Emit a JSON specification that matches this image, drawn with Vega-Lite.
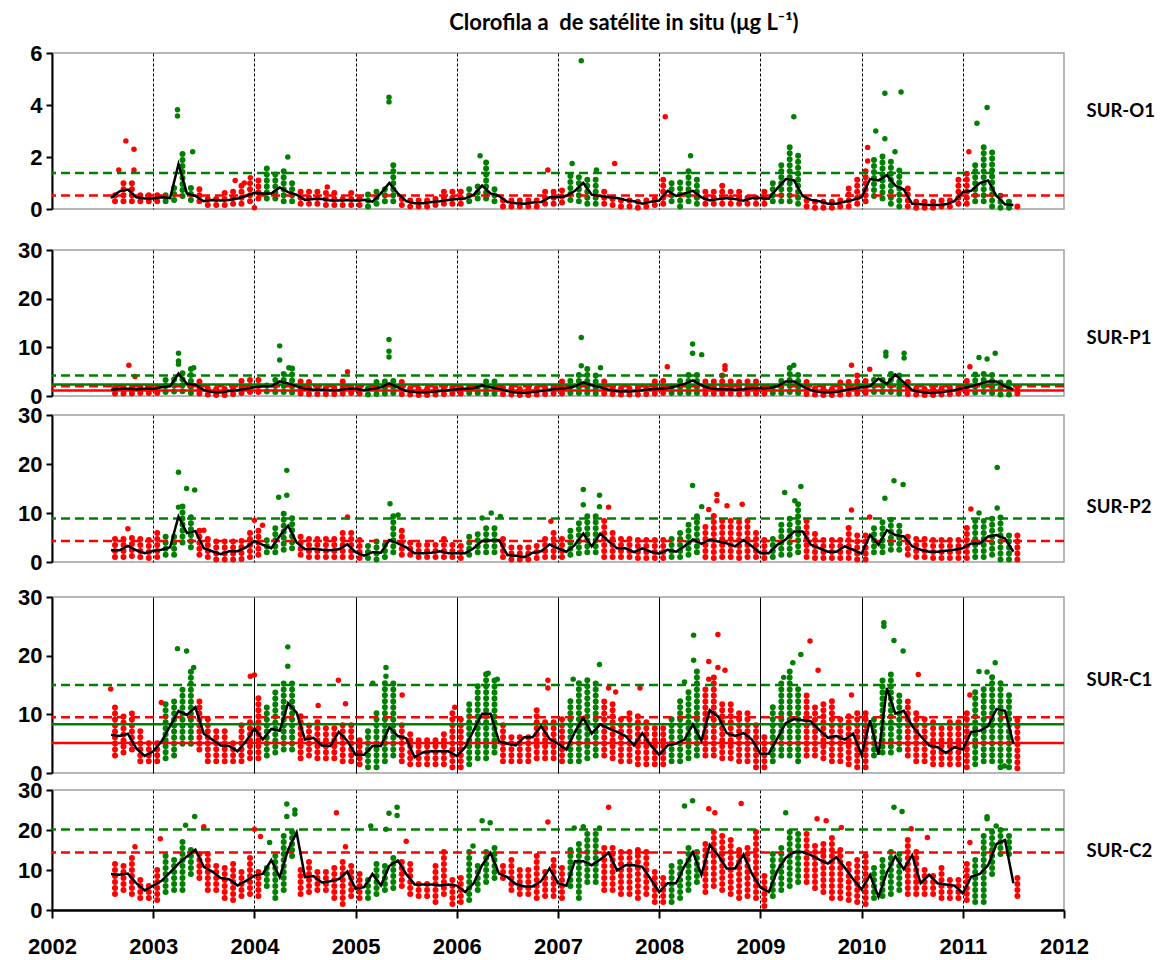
{
"$schema": "https://vega.github.io/schema/vega-lite/v6.json",
"background": "white",
"padding": {"left": 16, "top": 12, "right": 5, "bottom": 2},
"title": {"text": "Clorofila a\u00a0 de satélite in situ (μg L⁻¹)", "font": "Lato", "fontSize": 22, "fontWeight": "bold", "color": "black", "anchor": "middle", "dx": 38, "offset": 6},
"config": {
 "view": {"stroke": "#a0a0a0", "strokeWidth": 1.5},
 "axisY": {"grid": false, "domainColor": "black", "domainWidth": 2, "tickColor": "black", "tickWidth": 2, "tickSize": 6, "labelFont": "Liberation Sans", "labelFontSize": 22, "labelFontWeight": "bold", "labelColor": "black", "labelPadding": 4},
 "axisX": {"grid": true, "gridColor": "black", "gridWidth": 1, "gridDash": [3, 2], "labels": false, "ticks": false, "domain": false, "labelFlush": false, "labelFont": "Liberation Sans", "labelFontSize": 22, "labelFontWeight": "bold", "labelColor": "black"}
},
"datasets": {
"O1": [
{"t":2002.583,"m":0.42,"l":0.3,"h":0.75,"c":"r"},{"t":2002.667,"m":0.68,"l":0.3,"h":1.1,"c":"r"},{"t":2002.75,"m":0.75,"l":0.3,"h":1.0,"c":"r"},{"t":2002.833,"m":0.45,"l":0.3,"h":0.7,"c":"r"},{"t":2002.917,"m":0.4,"l":0.3,"h":0.7,"c":"r"},
{"t":2003,"m":0.4,"l":0.3,"h":0.75,"c":"r"},{"t":2003.083,"m":0.45,"l":0.3,"h":0.7,"c":"g"},{"t":2003.167,"m":0.42,"l":0.35,"h":0.9,"c":"g"},{"t":2003.25,"m":1.73,"l":0.5,"h":2.3,"c":"g"},{"t":2003.333,"m":0.6,"l":0.35,"h":1.0,"c":"g"},{"t":2003.417,"m":0.5,"l":0.3,"h":0.9,"c":"r"},{"t":2003.5,"m":0.3,"l":0.15,"h":0.6,"c":"r"},{"t":2003.583,"m":0.35,"l":0.15,"h":0.6,"c":"r"},{"t":2003.667,"m":0.33,"l":0.15,"h":0.7,"c":"r"},{"t":2003.75,"m":0.35,"l":0.2,"h":0.8,"c":"r"},{"t":2003.833,"m":0.4,"l":0.2,"h":1.0,"c":"r"},{"t":2003.917,"m":0.5,"l":0.3,"h":1.1,"c":"r"},
{"t":2004,"m":0.62,"l":0.4,"h":1.2,"c":"r"},{"t":2004.083,"m":0.6,"l":0.4,"h":1.65,"c":"g"},{"t":2004.167,"m":0.6,"l":0.4,"h":1.55,"c":"g"},{"t":2004.25,"m":0.83,"l":0.3,"h":1.5,"c":"g"},{"t":2004.333,"m":0.65,"l":0.3,"h":1.1,"c":"g"},{"t":2004.417,"m":0.55,"l":0.2,"h":0.8,"c":"r"},{"t":2004.5,"m":0.35,"l":0.2,"h":0.8,"c":"r"},{"t":2004.583,"m":0.38,"l":0.2,"h":0.85,"c":"r"},{"t":2004.667,"m":0.38,"l":0.15,"h":0.7,"c":"r"},{"t":2004.75,"m":0.33,"l":0.15,"h":0.7,"c":"r"},{"t":2004.833,"m":0.33,"l":0.15,"h":0.6,"c":"r"},{"t":2004.917,"m":0.35,"l":0.15,"h":0.7,"c":"r"},
{"t":2005,"m":0.33,"l":0.15,"h":0.6,"c":"r"},{"t":2005.083,"m":0.35,"l":0.1,"h":0.7,"c":"g"},{"t":2005.167,"m":0.28,"l":0.2,"h":0.85,"c":"g"},{"t":2005.25,"m":0.6,"l":0.3,"h":0.85,"c":"g"},{"t":2005.333,"m":1.0,"l":0.3,"h":1.9,"c":"g"},{"t":2005.417,"m":0.6,"l":0.15,"h":0.6,"c":"r"},{"t":2005.5,"m":0.3,"l":0.1,"h":0.5,"c":"r"},{"t":2005.583,"m":0.22,"l":0.1,"h":0.5,"c":"r"},{"t":2005.667,"m":0.22,"l":0.1,"h":0.55,"c":"r"},{"t":2005.75,"m":0.27,"l":0.15,"h":0.6,"c":"r"},{"t":2005.833,"m":0.3,"l":0.2,"h":0.7,"c":"r"},{"t":2005.917,"m":0.35,"l":0.2,"h":0.7,"c":"r"},
{"t":2006,"m":0.38,"l":0.2,"h":0.8,"c":"r"},{"t":2006.083,"m":0.4,"l":0.3,"h":0.9,"c":"g"},{"t":2006.167,"m":0.55,"l":0.4,"h":1.0,"c":"g"},{"t":2006.25,"m":0.9,"l":0.4,"h":1.8,"c":"g"},{"t":2006.333,"m":0.6,"l":0.3,"h":0.85,"c":"g"},{"t":2006.417,"m":0.5,"l":0.1,"h":0.5,"c":"r"},{"t":2006.5,"m":0.27,"l":0.1,"h":0.45,"c":"r"},{"t":2006.583,"m":0.22,"l":0.1,"h":0.4,"c":"r"},{"t":2006.667,"m":0.2,"l":0.1,"h":0.5,"c":"r"},{"t":2006.75,"m":0.25,"l":0.1,"h":0.55,"c":"r"},{"t":2006.833,"m":0.27,"l":0.2,"h":0.7,"c":"r"},{"t":2006.917,"m":0.45,"l":0.2,"h":0.85,"c":"r"},
{"t":2007,"m":0.45,"l":0.25,"h":0.9,"c":"r"},{"t":2007.083,"m":0.5,"l":0.35,"h":1.4,"c":"g"},{"t":2007.167,"m":0.7,"l":0.3,"h":1.4,"c":"g"},{"t":2007.25,"m":1.0,"l":0.2,"h":1.3,"c":"g"},{"t":2007.333,"m":0.55,"l":0.2,"h":1.3,"c":"g"},{"t":2007.417,"m":0.5,"l":0.2,"h":0.7,"c":"r"},{"t":2007.5,"m":0.45,"l":0.15,"h":0.6,"c":"r"},{"t":2007.583,"m":0.42,"l":0.1,"h":0.55,"c":"r"},{"t":2007.667,"m":0.35,"l":0.1,"h":0.5,"c":"r"},{"t":2007.75,"m":0.3,"l":0.05,"h":0.45,"c":"r"},{"t":2007.833,"m":0.2,"l":0.1,"h":0.5,"c":"r"},{"t":2007.917,"m":0.28,"l":0.15,"h":0.6,"c":"r"},
{"t":2008,"m":0.32,"l":0.2,"h":1.2,"c":"r"},{"t":2008.083,"m":0.7,"l":0.3,"h":1.1,"c":"g"},{"t":2008.167,"m":0.5,"l":0.1,"h":1.2,"c":"g"},{"t":2008.25,"m":0.6,"l":0.3,"h":1.6,"c":"g"},{"t":2008.333,"m":0.7,"l":0.2,"h":1.3,"c":"g"},{"t":2008.417,"m":0.45,"l":0.2,"h":0.7,"c":"r"},{"t":2008.5,"m":0.33,"l":0.2,"h":0.8,"c":"r"},{"t":2008.583,"m":0.38,"l":0.2,"h":0.9,"c":"r"},{"t":2008.667,"m":0.42,"l":0.2,"h":0.8,"c":"r"},{"t":2008.75,"m":0.38,"l":0.2,"h":0.7,"c":"r"},{"t":2008.833,"m":0.32,"l":0.2,"h":0.6,"c":"r"},{"t":2008.917,"m":0.42,"l":0.2,"h":0.6,"c":"r"},
{"t":2009,"m":0.42,"l":0.2,"h":0.7,"c":"r"},{"t":2009.083,"m":0.4,"l":0.3,"h":1.2,"c":"g"},{"t":2009.167,"m":0.8,"l":0.3,"h":1.8,"c":"g"},{"t":2009.25,"m":1.15,"l":0.3,"h":2.4,"c":"g"},{"t":2009.333,"m":1.1,"l":0.2,"h":2.2,"c":"g"},{"t":2009.417,"m":0.5,"l":0.1,"h":0.5,"c":"r"},{"t":2009.5,"m":0.35,"l":0.05,"h":0.45,"c":"r"},{"t":2009.583,"m":0.3,"l":0.05,"h":0.4,"c":"r"},{"t":2009.667,"m":0.2,"l":0.05,"h":0.45,"c":"r"},{"t":2009.75,"m":0.2,"l":0.1,"h":0.5,"c":"r"},{"t":2009.833,"m":0.28,"l":0.1,"h":0.9,"c":"r"},{"t":2009.917,"m":0.35,"l":0.2,"h":1.2,"c":"r"},
{"t":2010,"m":0.45,"l":0.3,"h":1.5,"c":"r"},{"t":2010.083,"m":1.15,"l":0.5,"h":2.0,"c":"g"},{"t":2010.167,"m":1.1,"l":0.4,"h":2.2,"c":"g"},{"t":2010.25,"m":1.3,"l":0.2,"h":1.9,"c":"g"},{"t":2010.333,"m":0.9,"l":0.1,"h":1.7,"c":"g"},{"t":2010.417,"m":0.75,"l":0.1,"h":0.9,"c":"r"},{"t":2010.5,"m":0.2,"l":0.05,"h":0.35,"c":"r"},{"t":2010.583,"m":0.18,"l":0.05,"h":0.35,"c":"r"},{"t":2010.667,"m":0.15,"l":0.05,"h":0.35,"c":"r"},{"t":2010.75,"m":0.15,"l":0.1,"h":0.35,"c":"r"},{"t":2010.833,"m":0.18,"l":0.1,"h":0.5,"c":"r"},{"t":2010.917,"m":0.3,"l":0.2,"h":1.2,"c":"r"},
{"t":2011,"m":0.65,"l":0.2,"h":1.5,"c":"r"},{"t":2011.083,"m":0.7,"l":0.3,"h":1.9,"c":"g"},{"t":2011.167,"m":1.0,"l":0.3,"h":2.4,"c":"g"},{"t":2011.25,"m":1.1,"l":0.1,"h":2.4,"c":"g"},{"t":2011.333,"m":0.5,"l":0.05,"h":0.6,"c":"g"},{"t":2011.417,"m":0.18,"l":0.05,"h":0.3,"c":"g"},{"t":2011.5,"m":0.15,"l":0.1,"h":0.3,"c":"r"}
],
"P1": [
{"t":2002.583,"m":1.3,"l":0.5,"h":2.8,"c":"r"},{"t":2002.667,"m":1.5,"l":0.5,"h":2.8,"c":"r"},{"t":2002.75,"m":1.5,"l":0.5,"h":2.5,"c":"r"},{"t":2002.833,"m":1.4,"l":0.6,"h":2.5,"c":"r"},{"t":2002.917,"m":1.5,"l":0.6,"h":2.6,"c":"r"},
{"t":2003,"m":1.5,"l":0.6,"h":2.6,"c":"r"},{"t":2003.083,"m":1.8,"l":0.8,"h":3.5,"c":"g"},{"t":2003.167,"m":2.0,"l":0.9,"h":4.0,"c":"g"},{"t":2003.25,"m":4.6,"l":1.0,"h":5.8,"c":"g"},{"t":2003.333,"m":2.5,"l":0.6,"h":6.0,"c":"g"},{"t":2003.417,"m":2.3,"l":0.5,"h":3.2,"c":"r"},{"t":2003.5,"m":1.2,"l":0.3,"h":2.6,"c":"r"},{"t":2003.583,"m":0.8,"l":0.2,"h":2.2,"c":"r"},{"t":2003.667,"m":0.7,"l":0.2,"h":2.4,"c":"r"},{"t":2003.75,"m":1.0,"l":0.4,"h":2.6,"c":"r"},{"t":2003.833,"m":1.2,"l":0.6,"h":3.4,"c":"r"},{"t":2003.917,"m":1.5,"l":0.8,"h":3.6,"c":"r"},
{"t":2004,"m":1.8,"l":0.8,"h":3.5,"c":"r"},{"t":2004.083,"m":2.0,"l":0.9,"h":3.0,"c":"g"},{"t":2004.167,"m":2.0,"l":0.8,"h":4.0,"c":"g"},{"t":2004.25,"m":3.0,"l":0.8,"h":5.2,"c":"g"},{"t":2004.333,"m":2.6,"l":0.7,"h":6.0,"c":"g"},{"t":2004.417,"m":2.0,"l":0.5,"h":3.0,"c":"r"},{"t":2004.5,"m":1.5,"l":0.4,"h":3.0,"c":"r"},{"t":2004.583,"m":1.3,"l":0.4,"h":2.6,"c":"r"},{"t":2004.667,"m":1.3,"l":0.4,"h":2.6,"c":"r"},{"t":2004.75,"m":1.2,"l":0.4,"h":2.8,"c":"r"},{"t":2004.833,"m":1.2,"l":0.5,"h":3.2,"c":"r"},{"t":2004.917,"m":1.5,"l":0.6,"h":3.0,"c":"r"},
{"t":2005,"m":1.5,"l":0.5,"h":2.8,"c":"r"},{"t":2005.083,"m":1.2,"l":0.3,"h":2.5,"c":"g"},{"t":2005.167,"m":1.5,"l":0.4,"h":3.0,"c":"g"},{"t":2005.25,"m":1.8,"l":0.5,"h":4.0,"c":"g"},{"t":2005.333,"m":2.6,"l":0.6,"h":4.0,"c":"g"},{"t":2005.417,"m":1.8,"l":0.4,"h":3.0,"c":"r"},{"t":2005.5,"m":1.0,"l":0.3,"h":2.4,"c":"r"},{"t":2005.583,"m":0.8,"l":0.2,"h":2.0,"c":"r"},{"t":2005.667,"m":0.7,"l":0.2,"h":2.0,"c":"r"},{"t":2005.75,"m":0.8,"l":0.3,"h":2.2,"c":"r"},{"t":2005.833,"m":1.0,"l":0.4,"h":2.4,"c":"r"},{"t":2005.917,"m":1.2,"l":0.5,"h":2.5,"c":"r"},
{"t":2006,"m":1.4,"l":0.5,"h":2.6,"c":"r"},{"t":2006.083,"m":1.5,"l":0.6,"h":2.8,"c":"g"},{"t":2006.167,"m":1.6,"l":0.6,"h":3.0,"c":"g"},{"t":2006.25,"m":2.2,"l":0.5,"h":3.8,"c":"g"},{"t":2006.333,"m":1.8,"l":0.5,"h":3.0,"c":"g"},{"t":2006.417,"m":1.5,"l":0.4,"h":2.6,"c":"r"},{"t":2006.5,"m":1.0,"l":0.3,"h":2.2,"c":"r"},{"t":2006.583,"m":0.7,"l":0.2,"h":1.8,"c":"r"},{"t":2006.667,"m":0.6,"l":0.2,"h":1.8,"c":"r"},{"t":2006.75,"m":0.8,"l":0.3,"h":2.2,"c":"r"},{"t":2006.833,"m":1.0,"l":0.4,"h":2.4,"c":"r"},{"t":2006.917,"m":1.3,"l":0.5,"h":2.8,"c":"r"},
{"t":2007,"m":1.5,"l":0.5,"h":3.0,"c":"r"},{"t":2007.083,"m":1.6,"l":0.6,"h":4.2,"c":"g"},{"t":2007.167,"m":2.0,"l":0.6,"h":4.5,"c":"g"},{"t":2007.25,"m":2.8,"l":0.6,"h":6.2,"c":"g"},{"t":2007.333,"m":2.2,"l":0.5,"h":5.0,"c":"g"},{"t":2007.417,"m":1.8,"l":0.5,"h":3.0,"c":"r"},{"t":2007.5,"m":1.3,"l":0.4,"h":2.6,"c":"r"},{"t":2007.583,"m":1.0,"l":0.3,"h":2.4,"c":"r"},{"t":2007.667,"m":0.9,"l":0.3,"h":2.4,"c":"r"},{"t":2007.75,"m":1.0,"l":0.3,"h":2.6,"c":"r"},{"t":2007.833,"m":1.2,"l":0.4,"h":2.8,"c":"r"},{"t":2007.917,"m":1.4,"l":0.5,"h":3.0,"c":"r"},
{"t":2008,"m":1.5,"l":0.6,"h":3.2,"c":"r"},{"t":2008.083,"m":1.6,"l":0.6,"h":3.0,"c":"g"},{"t":2008.167,"m":2.0,"l":0.6,"h":4.0,"c":"g"},{"t":2008.25,"m":2.5,"l":0.6,"h":5.0,"c":"g"},{"t":2008.333,"m":3.2,"l":0.6,"h":5.5,"c":"g"},{"t":2008.417,"m":2.2,"l":0.5,"h":3.5,"c":"r"},{"t":2008.5,"m":1.6,"l":0.5,"h":3.8,"c":"r"},{"t":2008.583,"m":1.4,"l":0.5,"h":4.8,"c":"r"},{"t":2008.667,"m":1.4,"l":0.5,"h":3.5,"c":"r"},{"t":2008.75,"m":1.3,"l":0.4,"h":3.0,"c":"r"},{"t":2008.833,"m":1.4,"l":0.5,"h":3.0,"c":"r"},{"t":2008.917,"m":1.6,"l":0.5,"h":3.0,"c":"r"},
{"t":2009,"m":1.6,"l":0.5,"h":2.8,"c":"r"},{"t":2009.083,"m":1.6,"l":0.6,"h":3.0,"c":"g"},{"t":2009.167,"m":2.0,"l":0.6,"h":4.0,"c":"g"},{"t":2009.25,"m":3.0,"l":0.8,"h":6.0,"c":"g"},{"t":2009.333,"m":3.0,"l":0.6,"h":4.5,"c":"g"},{"t":2009.417,"m":2.0,"l":0.4,"h":3.0,"c":"r"},{"t":2009.5,"m":1.2,"l":0.3,"h":2.6,"c":"r"},{"t":2009.583,"m":0.8,"l":0.2,"h":2.2,"c":"r"},{"t":2009.667,"m":0.7,"l":0.2,"h":2.4,"c":"r"},{"t":2009.75,"m":0.8,"l":0.3,"h":2.8,"c":"r"},{"t":2009.833,"m":1.2,"l":0.4,"h":3.5,"c":"r"},{"t":2009.917,"m":1.5,"l":0.5,"h":5.2,"c":"r"},
{"t":2010,"m":1.8,"l":0.6,"h":3.5,"c":"r"},{"t":2010.083,"m":2.0,"l":0.8,"h":3.5,"c":"g"},{"t":2010.167,"m":3.6,"l":0.8,"h":4.0,"c":"g"},{"t":2010.25,"m":2.5,"l":0.8,"h":4.8,"c":"g"},{"t":2010.333,"m":4.4,"l":0.5,"h":4.5,"c":"g"},{"t":2010.417,"m":2.8,"l":0.4,"h":3.0,"c":"r"},{"t":2010.5,"m":1.2,"l":0.3,"h":2.4,"c":"r"},{"t":2010.583,"m":0.8,"l":0.2,"h":2.0,"c":"r"},{"t":2010.667,"m":0.6,"l":0.2,"h":2.0,"c":"r"},{"t":2010.75,"m":0.7,"l":0.3,"h":2.2,"c":"r"},{"t":2010.833,"m":0.9,"l":0.4,"h":2.6,"c":"r"},{"t":2010.917,"m":1.2,"l":0.5,"h":2.8,"c":"r"},
{"t":2011,"m":1.6,"l":0.6,"h":4.0,"c":"r"},{"t":2011.083,"m":2.0,"l":0.7,"h":4.5,"c":"g"},{"t":2011.167,"m":2.5,"l":0.8,"h":5.0,"c":"g"},{"t":2011.25,"m":3.0,"l":0.6,"h":4.5,"c":"g"},{"t":2011.333,"m":3.0,"l":0.3,"h":3.5,"c":"g"},{"t":2011.417,"m":2.0,"l":0.3,"h":3.0,"c":"g"},{"t":2011.5,"m":1.3,"l":0.5,"h":2.5,"c":"r"}
],
"P2": [
{"t":2002.583,"m":2.4,"l":1.0,"h":5.2,"c":"r"},{"t":2002.667,"m":2.4,"l":1.0,"h":5.0,"c":"r"},{"t":2002.75,"m":3.3,"l":1.2,"h":5.5,"c":"r"},{"t":2002.833,"m":2.4,"l":1.0,"h":5.0,"c":"r"},{"t":2002.917,"m":1.8,"l":0.8,"h":4.5,"c":"r"},
{"t":2003,"m":2.3,"l":1.0,"h":6.0,"c":"r"},{"t":2003.083,"m":2.5,"l":1.5,"h":5.5,"c":"g"},{"t":2003.167,"m":3.0,"l":1.5,"h":6.0,"c":"g"},{"t":2003.25,"m":9.3,"l":4.0,"h":11.5,"c":"g"},{"t":2003.333,"m":5.9,"l":3.0,"h":10.0,"c":"g"},{"t":2003.417,"m":6.3,"l":1.5,"h":7.0,"c":"r"},{"t":2003.5,"m":2.8,"l":1.0,"h":5.0,"c":"r"},{"t":2003.583,"m":2.2,"l":0.5,"h":4.5,"c":"r"},{"t":2003.667,"m":1.6,"l":0.5,"h":4.5,"c":"r"},{"t":2003.75,"m":2.2,"l":0.5,"h":4.5,"c":"r"},{"t":2003.833,"m":2.2,"l":0.6,"h":5.0,"c":"r"},{"t":2003.917,"m":3.0,"l":1.0,"h":7.0,"c":"r"},
{"t":2004,"m":4.3,"l":1.5,"h":7.5,"c":"r"},{"t":2004.083,"m":3.5,"l":2.0,"h":5.0,"c":"g"},{"t":2004.167,"m":2.8,"l":2.0,"h":7.5,"c":"g"},{"t":2004.25,"m":5.3,"l":2.5,"h":10.5,"c":"g"},{"t":2004.333,"m":7.4,"l":2.8,"h":10.0,"c":"g"},{"t":2004.417,"m":4.0,"l":1.5,"h":5.5,"c":"r"},{"t":2004.5,"m":2.6,"l":1.0,"h":5.0,"c":"r"},{"t":2004.583,"m":2.7,"l":1.0,"h":5.0,"c":"r"},{"t":2004.667,"m":2.5,"l":1.0,"h":4.8,"c":"r"},{"t":2004.75,"m":2.4,"l":1.0,"h":5.0,"c":"r"},{"t":2004.833,"m":2.6,"l":1.0,"h":6.5,"c":"r"},{"t":2004.917,"m":3.6,"l":1.0,"h":7.0,"c":"r"},
{"t":2005,"m":2.0,"l":0.8,"h":4.5,"c":"r"},{"t":2005.083,"m":1.3,"l":0.8,"h":3.5,"c":"g"},{"t":2005.167,"m":2.0,"l":0.5,"h":4.5,"c":"g"},{"t":2005.25,"m":1.9,"l":1.0,"h":4.0,"c":"g"},{"t":2005.333,"m":4.5,"l":2.0,"h":9.5,"c":"g"},{"t":2005.417,"m":3.8,"l":1.5,"h":7.0,"c":"r"},{"t":2005.5,"m":3.0,"l":1.5,"h":5.0,"c":"r"},{"t":2005.583,"m":1.8,"l":1.0,"h":4.0,"c":"r"},{"t":2005.667,"m":1.8,"l":1.0,"h":4.0,"c":"r"},{"t":2005.75,"m":1.9,"l":1.0,"h":4.5,"c":"r"},{"t":2005.833,"m":2.2,"l":1.0,"h":5.0,"c":"r"},{"t":2005.917,"m":1.8,"l":1.0,"h":4.5,"c":"r"},
{"t":2006,"m":1.8,"l":0.8,"h":4.0,"c":"r"},{"t":2006.083,"m":1.8,"l":1.5,"h":5.5,"c":"g"},{"t":2006.167,"m":2.8,"l":2.0,"h":6.5,"c":"g"},{"t":2006.25,"m":4.3,"l":2.0,"h":7.5,"c":"g"},{"t":2006.333,"m":4.4,"l":2.0,"h":7.0,"c":"g"},{"t":2006.417,"m":4.5,"l":1.0,"h":5.0,"c":"r"},{"t":2006.5,"m":1.4,"l":0.5,"h":3.0,"c":"r"},{"t":2006.583,"m":1.3,"l":0.5,"h":3.5,"c":"r"},{"t":2006.667,"m":1.0,"l":0.5,"h":3.5,"c":"r"},{"t":2006.75,"m":1.9,"l":0.8,"h":4.0,"c":"r"},{"t":2006.833,"m":2.2,"l":1.0,"h":5.0,"c":"r"},{"t":2006.917,"m":3.6,"l":1.0,"h":6.0,"c":"r"},
{"t":2007,"m":2.8,"l":1.0,"h":5.5,"c":"r"},{"t":2007.083,"m":2.1,"l":1.5,"h":6.5,"c":"g"},{"t":2007.167,"m":3.5,"l":1.8,"h":8.5,"c":"g"},{"t":2007.25,"m":5.8,"l":2.0,"h":10.0,"c":"g"},{"t":2007.333,"m":3.2,"l":2.0,"h":10.5,"c":"g"},{"t":2007.417,"m":5.8,"l":1.0,"h":8.5,"c":"r"},{"t":2007.5,"m":4.2,"l":1.0,"h":6.5,"c":"r"},{"t":2007.583,"m":2.8,"l":1.0,"h":5.5,"c":"r"},{"t":2007.667,"m":2.8,"l":1.0,"h":5.5,"c":"r"},{"t":2007.75,"m":2.0,"l":0.8,"h":5.0,"c":"r"},{"t":2007.833,"m":2.8,"l":0.8,"h":5.5,"c":"r"},{"t":2007.917,"m":2.1,"l":0.8,"h":5.0,"c":"r"},
{"t":2008,"m":1.7,"l":0.8,"h":4.5,"c":"r"},{"t":2008.083,"m":2.5,"l":1.0,"h":5.0,"c":"g"},{"t":2008.167,"m":2.1,"l":1.0,"h":6.5,"c":"g"},{"t":2008.25,"m":3.2,"l":1.5,"h":8.5,"c":"g"},{"t":2008.333,"m":4.6,"l":2.0,"h":10.0,"c":"g"},{"t":2008.417,"m":3.7,"l":1.0,"h":8.0,"c":"r"},{"t":2008.5,"m":4.6,"l":0.8,"h":9.5,"c":"r"},{"t":2008.583,"m":4.2,"l":1.0,"h":9.0,"c":"r"},{"t":2008.667,"m":3.8,"l":1.0,"h":8.5,"c":"r"},{"t":2008.75,"m":3.2,"l":0.8,"h":9.0,"c":"r"},{"t":2008.833,"m":4.5,"l":1.0,"h":9.0,"c":"r"},{"t":2008.917,"m":3.2,"l":1.0,"h":7.0,"c":"r"},
{"t":2009,"m":1.8,"l":0.8,"h":5.0,"c":"r"},{"t":2009.083,"m":1.8,"l":1.0,"h":5.0,"c":"g"},{"t":2009.167,"m":3.5,"l":1.5,"h":8.0,"c":"g"},{"t":2009.25,"m":4.6,"l":1.5,"h":9.5,"c":"g"},{"t":2009.333,"m":6.2,"l":2.0,"h":12.5,"c":"g"},{"t":2009.417,"m":6.2,"l":1.0,"h":9.5,"c":"r"},{"t":2009.5,"m":3.5,"l":0.8,"h":6.0,"c":"r"},{"t":2009.583,"m":2.8,"l":0.8,"h":5.0,"c":"r"},{"t":2009.667,"m":2.1,"l":0.8,"h":5.0,"c":"r"},{"t":2009.75,"m":2.1,"l":0.8,"h":5.5,"c":"r"},{"t":2009.833,"m":3.2,"l":0.8,"h":7.5,"c":"r"},{"t":2009.917,"m":2.5,"l":0.5,"h":6.0,"c":"r"},
{"t":2010,"m":1.7,"l":0.5,"h":6.5,"c":"r"},{"t":2010.083,"m":5.5,"l":2.0,"h":8.0,"c":"g"},{"t":2010.167,"m":3.5,"l":2.0,"h":8.5,"c":"g"},{"t":2010.25,"m":6.5,"l":2.5,"h":9.0,"c":"g"},{"t":2010.333,"m":5.5,"l":2.5,"h":8.5,"c":"g"},{"t":2010.417,"m":5.2,"l":1.5,"h":6.0,"c":"r"},{"t":2010.5,"m":3.2,"l":1.0,"h":5.0,"c":"r"},{"t":2010.583,"m":2.5,"l":1.0,"h":5.0,"c":"r"},{"t":2010.667,"m":2.1,"l":0.8,"h":5.0,"c":"r"},{"t":2010.75,"m":2.1,"l":0.8,"h":4.5,"c":"r"},{"t":2010.833,"m":2.3,"l":0.8,"h":5.0,"c":"r"},{"t":2010.917,"m":2.5,"l":0.8,"h":5.0,"c":"r"},
{"t":2011,"m":2.8,"l":0.8,"h":7.0,"c":"r"},{"t":2011.083,"m":3.8,"l":1.0,"h":8.5,"c":"g"},{"t":2011.167,"m":3.8,"l":1.0,"h":9.5,"c":"g"},{"t":2011.25,"m":5.2,"l":1.5,"h":9.0,"c":"g"},{"t":2011.333,"m":5.5,"l":0.5,"h":10.0,"c":"g"},{"t":2011.417,"m":4.8,"l":0.5,"h":6.0,"c":"g"},{"t":2011.5,"m":2.1,"l":0.5,"h":6.5,"c":"r"}
],
"C1": [
{"t":2002.583,"m":6.5,"l":3,"h":12,"c":"r"},{"t":2002.667,"m":6.3,"l":3.5,"h":10,"c":"r"},{"t":2002.75,"m":6.7,"l":4,"h":11,"c":"r"},{"t":2002.833,"m":4.2,"l":2,"h":8,"c":"r"},{"t":2002.917,"m":2.9,"l":2,"h":6,"c":"r"},
{"t":2003,"m":3.7,"l":2,"h":6,"c":"r"},{"t":2003.083,"m":5.4,"l":2.5,"h":12,"c":"g"},{"t":2003.167,"m":8.0,"l":3,"h":12.5,"c":"g"},{"t":2003.25,"m":10.6,"l":5,"h":15,"c":"g"},{"t":2003.333,"m":9.9,"l":5,"h":18,"c":"g"},{"t":2003.417,"m":11.2,"l":4,"h":12.5,"c":"r"},{"t":2003.5,"m":6.7,"l":2,"h":10,"c":"r"},{"t":2003.583,"m":5.7,"l":2,"h":8,"c":"r"},{"t":2003.667,"m":4.7,"l":2,"h":7.5,"c":"r"},{"t":2003.75,"m":4.6,"l":2,"h":6,"c":"r"},{"t":2003.833,"m":3.7,"l":2,"h":9,"c":"r"},{"t":2003.917,"m":5.4,"l":2.5,"h":9,"c":"r"},
{"t":2004,"m":7.6,"l":2.5,"h":13,"c":"r"},{"t":2004.083,"m":5.7,"l":3,"h":12,"c":"g"},{"t":2004.167,"m":7.5,"l":3.5,"h":14.5,"c":"g"},{"t":2004.25,"m":7.2,"l":4,"h":15.5,"c":"g"},{"t":2004.333,"m":11.9,"l":4,"h":16,"c":"g"},{"t":2004.417,"m":10.3,"l":2.5,"h":10,"c":"r"},{"t":2004.5,"m":5.7,"l":3,"h":9,"c":"r"},{"t":2004.583,"m":6.0,"l":2.5,"h":9.5,"c":"r"},{"t":2004.667,"m":4.7,"l":2.5,"h":8,"c":"r"},{"t":2004.75,"m":4.6,"l":2.5,"h":8,"c":"r"},{"t":2004.833,"m":7.0,"l":2,"h":9,"c":"r"},{"t":2004.917,"m":5.5,"l":2,"h":9,"c":"r"},
{"t":2005,"m":3.1,"l":1.5,"h":6,"c":"r"},{"t":2005.083,"m":3.1,"l":1,"h":8,"c":"g"},{"t":2005.167,"m":4.6,"l":1,"h":11,"c":"g"},{"t":2005.25,"m":4.6,"l":2,"h":16,"c":"g"},{"t":2005.333,"m":7.8,"l":3,"h":15.5,"c":"g"},{"t":2005.417,"m":6.3,"l":2,"h":9,"c":"r"},{"t":2005.5,"m":5.9,"l":1.5,"h":7,"c":"r"},{"t":2005.583,"m":2.7,"l":1.5,"h":6,"c":"r"},{"t":2005.667,"m":3.5,"l":1.5,"h":6,"c":"r"},{"t":2005.75,"m":3.7,"l":1.5,"h":6,"c":"r"},{"t":2005.833,"m":3.7,"l":1.5,"h":7,"c":"r"},{"t":2005.917,"m":3.7,"l":1,"h":11,"c":"r"},
{"t":2006,"m":2.9,"l":1,"h":9.5,"c":"r"},{"t":2006.083,"m":4.4,"l":1.5,"h":12,"c":"g"},{"t":2006.167,"m":7.3,"l":2.5,"h":15.5,"c":"g"},{"t":2006.25,"m":10.1,"l":2.5,"h":17,"c":"g"},{"t":2006.333,"m":10.1,"l":3.5,"h":16,"c":"g"},{"t":2006.417,"m":5.4,"l":2,"h":9,"c":"r"},{"t":2006.5,"m":5.0,"l":2,"h":7,"c":"r"},{"t":2006.583,"m":4.7,"l":2,"h":6.5,"c":"r"},{"t":2006.667,"m":6.1,"l":2,"h":7,"c":"r"},{"t":2006.75,"m":6.1,"l":2.5,"h":11.5,"c":"r"},{"t":2006.833,"m":8.0,"l":2.5,"h":9.5,"c":"r"},{"t":2006.917,"m":5.8,"l":2.5,"h":9.5,"c":"r"},
{"t":2007,"m":5.0,"l":2,"h":10,"c":"r"},{"t":2007.083,"m":4.0,"l":2,"h":13,"c":"g"},{"t":2007.167,"m":7.0,"l":2,"h":15.5,"c":"g"},{"t":2007.25,"m":9.4,"l":2.5,"h":16,"c":"g"},{"t":2007.333,"m":6.7,"l":3,"h":16,"c":"g"},{"t":2007.417,"m":8.3,"l":3,"h":13,"c":"r"},{"t":2007.5,"m":7.6,"l":2.5,"h":12,"c":"r"},{"t":2007.583,"m":7.0,"l":2,"h":10,"c":"r"},{"t":2007.667,"m":6.3,"l":2,"h":11,"c":"r"},{"t":2007.75,"m":4.7,"l":1.5,"h":10,"c":"r"},{"t":2007.833,"m":6.8,"l":1.5,"h":9,"c":"r"},{"t":2007.917,"m":4.7,"l":1.5,"h":8,"c":"r"},
{"t":2008,"m":3.1,"l":1.5,"h":8,"c":"r"},{"t":2008.083,"m":4.7,"l":2,"h":10,"c":"g"},{"t":2008.167,"m":5.0,"l":2,"h":13,"c":"g"},{"t":2008.25,"m":5.7,"l":2.5,"h":14,"c":"g"},{"t":2008.333,"m":8.3,"l":3,"h":18,"c":"g"},{"t":2008.417,"m":5.5,"l":3,"h":15,"c":"r"},{"t":2008.5,"m":10.7,"l":3,"h":17,"c":"r"},{"t":2008.583,"m":9.6,"l":2.5,"h":12,"c":"r"},{"t":2008.667,"m":6.8,"l":2.5,"h":12,"c":"r"},{"t":2008.75,"m":6.3,"l":2,"h":11,"c":"r"},{"t":2008.833,"m":6.8,"l":2,"h":11,"c":"r"},{"t":2008.917,"m":5.7,"l":1,"h":9,"c":"r"},
{"t":2009,"m":3.3,"l":1,"h":7,"c":"r"},{"t":2009.083,"m":3.3,"l":2,"h":11.5,"c":"g"},{"t":2009.167,"m":5.9,"l":3,"h":16,"c":"g"},{"t":2009.25,"m":8.5,"l":3,"h":18,"c":"g"},{"t":2009.333,"m":9.2,"l":2,"h":15,"c":"g"},{"t":2009.417,"m":9.0,"l":3,"h":14,"c":"r"},{"t":2009.5,"m":8.8,"l":3,"h":12,"c":"r"},{"t":2009.583,"m":7.3,"l":2.5,"h":12,"c":"r"},{"t":2009.667,"m":6.0,"l":2,"h":13,"c":"r"},{"t":2009.75,"m":6.3,"l":2,"h":10,"c":"r"},{"t":2009.833,"m":5.7,"l":1.5,"h":10,"c":"r"},{"t":2009.917,"m":6.7,"l":1,"h":11,"c":"r"},
{"t":2010,"m":3.1,"l":1,"h":11,"c":"r"},{"t":2010.083,"m":9.0,"l":3,"h":10,"c":"g"},{"t":2010.167,"m":3.1,"l":3.5,"h":16,"c":"g"},{"t":2010.25,"m":14.5,"l":3.5,"h":17,"c":"g"},{"t":2010.333,"m":10.1,"l":4,"h":14,"c":"g"},{"t":2010.417,"m":10.6,"l":3,"h":13,"c":"r"},{"t":2010.5,"m":8.0,"l":2,"h":11,"c":"r"},{"t":2010.583,"m":6.3,"l":2,"h":10,"c":"r"},{"t":2010.667,"m":4.7,"l":1.5,"h":9,"c":"r"},{"t":2010.75,"m":4.4,"l":1.5,"h":8,"c":"r"},{"t":2010.833,"m":3.4,"l":1.5,"h":9,"c":"r"},{"t":2010.917,"m":4.4,"l":1.5,"h":9,"c":"r"},
{"t":2011,"m":4.0,"l":1,"h":11,"c":"r"},{"t":2011.083,"m":7.0,"l":1.5,"h":14,"c":"g"},{"t":2011.167,"m":7.2,"l":2,"h":15,"c":"g"},{"t":2011.25,"m":8.0,"l":2,"h":17,"c":"g"},{"t":2011.333,"m":10.9,"l":1,"h":16,"c":"g"},{"t":2011.417,"m":10.6,"l":1,"h":14,"c":"g"},{"t":2011.5,"m":5.0,"l":0.8,"h":9,"c":"r"}
],
"C2": [
{"t":2002.583,"m":9.0,"l":4,"h":13,"c":"r"},{"t":2002.667,"m":8.8,"l":5,"h":12.5,"c":"r"},{"t":2002.75,"m":9.1,"l":4,"h":14.5,"c":"r"},{"t":2002.833,"m":6.7,"l":3,"h":8,"c":"r"},{"t":2002.917,"m":4.9,"l":3,"h":6.5,"c":"r"},
{"t":2003,"m":6.1,"l":2.5,"h":10.5,"c":"r"},{"t":2003.083,"m":7.3,"l":4.5,"h":15,"c":"g"},{"t":2003.167,"m":9.4,"l":5,"h":14,"c":"g"},{"t":2003.25,"m":11.6,"l":5,"h":18,"c":"g"},{"t":2003.333,"m":13.4,"l":9,"h":16,"c":"g"},{"t":2003.417,"m":15.1,"l":8,"h":15,"c":"r"},{"t":2003.5,"m":10.8,"l":5,"h":15.5,"c":"r"},{"t":2003.583,"m":9.6,"l":5,"h":12,"c":"r"},{"t":2003.667,"m":8.0,"l":3,"h":12,"c":"r"},{"t":2003.75,"m":7.7,"l":2.5,"h":12,"c":"r"},{"t":2003.833,"m":6.1,"l":3.5,"h":10,"c":"r"},{"t":2003.917,"m":7.3,"l":4,"h":14,"c":"r"},
{"t":2004,"m":8.6,"l":3.5,"h":11,"c":"r"},{"t":2004.083,"m":9.0,"l":6,"h":12,"c":"g"},{"t":2004.167,"m":12.5,"l":3,"h":15,"c":"g"},{"t":2004.25,"m":8.2,"l":5,"h":19,"c":"g"},{"t":2004.333,"m":15.1,"l":13.5,"h":20,"c":"g"},{"t":2004.417,"m":19.4,"l":4,"h":11,"c":"r"},{"t":2004.5,"m":8.2,"l":4.5,"h":13,"c":"r"},{"t":2004.583,"m":8.5,"l":5,"h":10,"c":"r"},{"t":2004.667,"m":6.9,"l":5,"h":10,"c":"r"},{"t":2004.75,"m":7.2,"l":3,"h":11,"c":"r"},{"t":2004.833,"m":7.7,"l":1.5,"h":13,"c":"r"},{"t":2004.917,"m":9.6,"l":3.5,"h":12,"c":"r"},
{"t":2005,"m":5.3,"l":3,"h":10,"c":"r"},{"t":2005.083,"m":5.7,"l":3,"h":9,"c":"g"},{"t":2005.167,"m":9.0,"l":4,"h":12,"c":"g"},{"t":2005.25,"m":6.1,"l":5,"h":12,"c":"g"},{"t":2005.333,"m":11.0,"l":5.5,"h":14,"c":"g"},{"t":2005.417,"m":12.4,"l":6,"h":12.5,"c":"r"},{"t":2005.5,"m":9.0,"l":4,"h":13,"c":"r"},{"t":2005.583,"m":6.4,"l":3.5,"h":8,"c":"r"},{"t":2005.667,"m":6.4,"l":3.5,"h":8,"c":"r"},{"t":2005.75,"m":6.4,"l":2,"h":12,"c":"r"},{"t":2005.833,"m":6.1,"l":4,"h":15.5,"c":"r"},{"t":2005.917,"m":6.4,"l":1.5,"h":9,"c":"r"},
{"t":2006,"m":6.1,"l":2,"h":9,"c":"r"},{"t":2006.083,"m":4.5,"l":2.5,"h":16,"c":"g"},{"t":2006.167,"m":6.7,"l":5,"h":12,"c":"g"},{"t":2006.25,"m":11.2,"l":7,"h":16,"c":"g"},{"t":2006.333,"m":14.3,"l":8,"h":16,"c":"g"},{"t":2006.417,"m":9.1,"l":8,"h":12,"c":"r"},{"t":2006.5,"m":8.2,"l":5,"h":13,"c":"r"},{"t":2006.583,"m":6.5,"l":4,"h":11,"c":"r"},{"t":2006.667,"m":5.9,"l":4,"h":11,"c":"r"},{"t":2006.75,"m":5.9,"l":3,"h":14.5,"c":"r"},{"t":2006.833,"m":7.2,"l":3.5,"h":10.5,"c":"r"},{"t":2006.917,"m":10.4,"l":3.5,"h":13,"c":"r"},
{"t":2007,"m":6.7,"l":3,"h":11,"c":"r"},{"t":2007.083,"m":6.1,"l":6,"h":15.5,"c":"g"},{"t":2007.167,"m":12.2,"l":3,"h":17,"c":"g"},{"t":2007.25,"m":12.2,"l":7,"h":20.5,"c":"g"},{"t":2007.333,"m":11.2,"l":7,"h":20.5,"c":"g"},{"t":2007.417,"m":12.6,"l":5,"h":17,"c":"r"},{"t":2007.5,"m":14.3,"l":5,"h":16,"c":"r"},{"t":2007.583,"m":9.9,"l":4,"h":16,"c":"r"},{"t":2007.667,"m":11.2,"l":4,"h":15,"c":"r"},{"t":2007.75,"m":11.2,"l":3,"h":16,"c":"r"},{"t":2007.833,"m":10.8,"l":4,"h":15,"c":"r"},{"t":2007.917,"m":7.7,"l":2,"h":10,"c":"r"},
{"t":2008,"m":4.5,"l":2,"h":9,"c":"r"},{"t":2008.083,"m":6.7,"l":2,"h":12,"c":"g"},{"t":2008.167,"m":6.7,"l":3,"h":13,"c":"g"},{"t":2008.25,"m":11.0,"l":5,"h":16,"c":"g"},{"t":2008.333,"m":14.5,"l":7,"h":16,"c":"g"},{"t":2008.417,"m":8.8,"l":4.5,"h":17,"c":"r"},{"t":2008.5,"m":16.3,"l":6,"h":20,"c":"r"},{"t":2008.583,"m":13.7,"l":5,"h":19,"c":"r"},{"t":2008.667,"m":10.4,"l":4,"h":18,"c":"r"},{"t":2008.75,"m":10.4,"l":3,"h":16,"c":"r"},{"t":2008.833,"m":13.9,"l":3.5,"h":17,"c":"r"},{"t":2008.917,"m":9.0,"l":3,"h":20,"c":"r"},
{"t":2009,"m":5.7,"l":1,"h":10,"c":"r"},{"t":2009.083,"m":4.5,"l":3.5,"h":14.5,"c":"g"},{"t":2009.167,"m":9.8,"l":5,"h":17,"c":"g"},{"t":2009.25,"m":13.0,"l":6,"h":20,"c":"g"},{"t":2009.333,"m":14.5,"l":7,"h":20,"c":"g"},{"t":2009.417,"m":14.5,"l":7,"h":20,"c":"r"},{"t":2009.5,"m":13.7,"l":5.5,"h":17.5,"c":"r"},{"t":2009.583,"m":12.6,"l":4.5,"h":17,"c":"r"},{"t":2009.667,"m":11.6,"l":3,"h":19,"c":"r"},{"t":2009.75,"m":13.2,"l":3,"h":16,"c":"r"},{"t":2009.833,"m":10.6,"l":2.5,"h":12,"c":"r"},{"t":2009.917,"m":7.7,"l":2,"h":13,"c":"r"},
{"t":2010,"m":5.1,"l":1.5,"h":14,"c":"r"},{"t":2010.083,"m":8.8,"l":3,"h":11,"c":"g"},{"t":2010.167,"m":3.3,"l":3.5,"h":13,"c":"g"},{"t":2010.25,"m":9.4,"l":4,"h":16,"c":"g"},{"t":2010.333,"m":13.4,"l":5,"h":15,"c":"g"},{"t":2010.417,"m":10.2,"l":4,"h":19,"c":"r"},{"t":2010.5,"m":13.7,"l":4,"h":16,"c":"r"},{"t":2010.583,"m":6.7,"l":4,"h":11,"c":"r"},{"t":2010.667,"m":8.8,"l":4,"h":10,"c":"r"},{"t":2010.75,"m":6.7,"l":3,"h":11.5,"c":"r"},{"t":2010.833,"m":6.4,"l":3,"h":9,"c":"r"},{"t":2010.917,"m":6.1,"l":3,"h":9,"c":"r"},
{"t":2011,"m":4.2,"l":2.5,"h":12,"c":"r"},{"t":2011.083,"m":8.3,"l":2,"h":14,"c":"g"},{"t":2011.167,"m":9.0,"l":2,"h":20,"c":"g"},{"t":2011.25,"m":11.2,"l":9,"h":20,"c":"g"},{"t":2011.333,"m":16.5,"l":14,"h":21,"c":"g"},{"t":2011.417,"m":17.5,"l":14,"h":20,"c":"g"},{"t":2011.5,"m":6.7,"l":3.5,"h":9.5,"c":"r"}
],
"oO1": [
{"t":2002.73,"v":2.62,"c":"r"},{"t":2002.81,"v":2.3,"c":"r"},{"t":2002.81,"v":1.5,"c":"r"},{"t":2002.66,"v":1.5,"c":"r"},{"t":2003.24,"v":3.82,"c":"g"},{"t":2003.24,"v":3.58,"c":"g"},{"t":2003.39,"v":2.2,"c":"g"},{"t":2003.81,"v":1.1,"c":"r"},{"t":2003.9,"v":1.0,"c":"r"},{"t":2003.96,"v":1.2,"c":"r"},{"t":2004.0,"v":0.05,"c":"r"},{"t":2004.33,"v":2.0,"c":"g"},{"t":2004.72,"v":0.85,"c":"r"},{"t":2005.33,"v":4.3,"c":"g"},{"t":2005.33,"v":4.12,"c":"g"},{"t":2006.23,"v":2.05,"c":"g"},{"t":2006.9,"v":1.5,"c":"r"},{"t":2007.23,"v":5.7,"c":"g"},{"t":2007.14,"v":1.75,"c":"g"},{"t":2007.38,"v":1.5,"c":"g"},{"t":2007.56,"v":1.75,"c":"r"},{"t":2008.06,"v":3.55,"c":"r"},{"t":2008.31,"v":2.05,"c":"g"},{"t":2009.33,"v":3.55,"c":"g"},{"t":2010.06,"v":2.37,"c":"r"},{"t":2010.06,"v":1.85,"c":"r"},{"t":2010.14,"v":3.0,"c":"g"},{"t":2010.23,"v":2.7,"c":"g"},{"t":2010.23,"v":4.45,"c":"g"},{"t":2010.39,"v":4.5,"c":"g"},{"t":2010.33,"v":2.2,"c":"g"},{"t":2011.06,"v":2.2,"c":"r"},{"t":2011.14,"v":3.3,"c":"g"},{"t":2011.24,"v":3.9,"c":"g"}
],
"oP1": [
{"t":2002.76,"v":6.3,"c":"r"},{"t":2002.82,"v":4.0,"c":"r"},{"t":2003.25,"v":8.8,"c":"g"},{"t":2003.25,"v":7.2,"c":"g"},{"t":2003.25,"v":6.5,"c":"g"},{"t":2003.4,"v":5.8,"c":"g"},{"t":2004.25,"v":10.3,"c":"g"},{"t":2004.25,"v":7.4,"c":"g"},{"t":2004.34,"v":5.8,"c":"g"},{"t":2004.92,"v":5.0,"c":"r"},{"t":2005.33,"v":11.6,"c":"g"},{"t":2005.33,"v":9.2,"c":"g"},{"t":2005.33,"v":8.0,"c":"g"},{"t":2007.23,"v":12.0,"c":"g"},{"t":2007.23,"v":6.2,"c":"g"},{"t":2007.42,"v":5.8,"c":"g"},{"t":2008.08,"v":6.0,"c":"r"},{"t":2008.33,"v":10.7,"c":"g"},{"t":2008.33,"v":8.8,"c":"g"},{"t":2008.42,"v":8.5,"c":"g"},{"t":2008.65,"v":6.2,"c":"r"},{"t":2008.65,"v":5.5,"c":"r"},{"t":2009.33,"v":6.3,"c":"g"},{"t":2009.9,"v":6.3,"c":"r"},{"t":2010.08,"v":5.5,"c":"r"},{"t":2010.24,"v":9.0,"c":"g"},{"t":2010.24,"v":8.2,"c":"g"},{"t":2010.42,"v":8.8,"c":"g"},{"t":2010.42,"v":7.8,"c":"g"},{"t":2011.07,"v":6.0,"c":"r"},{"t":2011.16,"v":7.9,"c":"g"},{"t":2011.24,"v":7.6,"c":"g"},{"t":2011.32,"v":8.8,"c":"g"}
],
"oP2": [
{"t":2002.75,"v":6.8,"c":"r"},{"t":2003.25,"v":18.3,"c":"g"},{"t":2003.25,"v":11.2,"c":"g"},{"t":2003.33,"v":15.0,"c":"g"},{"t":2003.41,"v":14.7,"c":"g"},{"t":2003.5,"v":6.5,"c":"r"},{"t":2004.0,"v":8.5,"c":"r"},{"t":2004.08,"v":7.5,"c":"r"},{"t":2004.32,"v":18.7,"c":"g"},{"t":2004.32,"v":13.6,"c":"g"},{"t":2004.24,"v":13.2,"c":"g"},{"t":2004.92,"v":9.2,"c":"r"},{"t":2005.34,"v":11.9,"c":"g"},{"t":2005.42,"v":9.6,"c":"g"},{"t":2006.25,"v":9.0,"c":"g"},{"t":2006.34,"v":10.0,"c":"g"},{"t":2006.43,"v":9.3,"c":"g"},{"t":2006.93,"v":8.3,"c":"r"},{"t":2007.25,"v":14.8,"c":"g"},{"t":2007.25,"v":11.7,"c":"g"},{"t":2007.41,"v":13.6,"c":"g"},{"t":2007.41,"v":11.3,"c":"g"},{"t":2007.5,"v":11.2,"c":"r"},{"t":2008.33,"v":15.6,"c":"g"},{"t":2008.42,"v":11.3,"c":"g"},{"t":2008.49,"v":10.7,"c":"r"},{"t":2008.57,"v":13.8,"c":"r"},{"t":2008.57,"v":12.5,"c":"r"},{"t":2008.67,"v":11.5,"c":"r"},{"t":2008.82,"v":11.8,"c":"r"},{"t":2009.24,"v":14.2,"c":"g"},{"t":2009.4,"v":15.4,"c":"g"},{"t":2009.34,"v":12.5,"c":"g"},{"t":2009.9,"v":10.6,"c":"r"},{"t":2010.08,"v":9.2,"c":"r"},{"t":2010.23,"v":13.0,"c":"g"},{"t":2010.32,"v":16.6,"c":"g"},{"t":2010.41,"v":15.8,"c":"g"},{"t":2011.08,"v":10.8,"c":"r"},{"t":2011.16,"v":10.0,"c":"g"},{"t":2011.34,"v":19.3,"c":"g"},{"t":2011.34,"v":11.0,"c":"g"}
],
"oC1": [
{"t":2002.58,"v":14.3,"c":"r"},{"t":2003.08,"v":12.0,"c":"r"},{"t":2003.24,"v":21.2,"c":"g"},{"t":2003.33,"v":20.8,"c":"g"},{"t":2003.4,"v":18.0,"c":"g"},{"t":2003.96,"v":16.5,"c":"r"},{"t":2004.0,"v":16.7,"c":"r"},{"t":2004.33,"v":21.5,"c":"g"},{"t":2004.33,"v":18.2,"c":"g"},{"t":2004.63,"v":11.5,"c":"r"},{"t":2004.83,"v":15.8,"c":"r"},{"t":2004.9,"v":11.8,"c":"r"},{"t":2005.17,"v":15.3,"c":"g"},{"t":2005.3,"v":18.0,"c":"g"},{"t":2005.3,"v":16.5,"c":"g"},{"t":2005.46,"v":13.3,"c":"r"},{"t":2005.98,"v":11.2,"c":"r"},{"t":2006.31,"v":17.0,"c":"g"},{"t":2006.4,"v":16.0,"c":"g"},{"t":2006.9,"v":15.8,"c":"r"},{"t":2006.9,"v":14.5,"c":"r"},{"t":2007.15,"v":16.0,"c":"g"},{"t":2007.41,"v":18.5,"c":"g"},{"t":2007.5,"v":14.5,"c":"r"},{"t":2007.57,"v":13.8,"c":"r"},{"t":2007.81,"v":14.5,"c":"r"},{"t":2008.25,"v":15.5,"c":"g"},{"t":2008.34,"v":23.5,"c":"g"},{"t":2008.34,"v":19.2,"c":"g"},{"t":2008.49,"v":19.0,"c":"r"},{"t":2008.49,"v":16.0,"c":"r"},{"t":2008.58,"v":23.6,"c":"r"},{"t":2008.58,"v":18.0,"c":"r"},{"t":2008.65,"v":17.5,"c":"r"},{"t":2009.23,"v":16.3,"c":"g"},{"t":2009.32,"v":18.8,"c":"g"},{"t":2009.4,"v":20.2,"c":"g"},{"t":2009.49,"v":22.5,"c":"r"},{"t":2009.57,"v":17.5,"c":"r"},{"t":2009.9,"v":13.3,"c":"r"},{"t":2010.22,"v":25.6,"c":"g"},{"t":2010.22,"v":25.0,"c":"g"},{"t":2010.32,"v":22.6,"c":"g"},{"t":2010.41,"v":20.8,"c":"g"},{"t":2010.56,"v":16.8,"c":"r"},{"t":2011.07,"v":13.3,"c":"r"},{"t":2011.16,"v":17.3,"c":"g"},{"t":2011.24,"v":17.2,"c":"g"},{"t":2011.32,"v":18.8,"c":"g"},{"t":2011.41,"v":1.2,"c":"g"}
],
"oC2": [
{"t":2002.82,"v":15.8,"c":"r"},{"t":2003.07,"v":17.8,"c":"r"},{"t":2003.32,"v":21.2,"c":"g"},{"t":2003.41,"v":23.4,"c":"g"},{"t":2003.5,"v":20.8,"c":"r"},{"t":2004.0,"v":20.2,"c":"r"},{"t":2004.06,"v":18.4,"c":"r"},{"t":2004.15,"v":16.9,"c":"g"},{"t":2004.32,"v":26.5,"c":"g"},{"t":2004.32,"v":23.4,"c":"g"},{"t":2004.4,"v":25.0,"c":"g"},{"t":2004.4,"v":24.0,"c":"g"},{"t":2004.81,"v":24.3,"c":"r"},{"t":2004.9,"v":15.8,"c":"r"},{"t":2005.15,"v":21.0,"c":"g"},{"t":2005.3,"v":20.2,"c":"g"},{"t":2005.33,"v":24.2,"c":"g"},{"t":2005.41,"v":25.7,"c":"g"},{"t":2005.41,"v":23.6,"c":"g"},{"t":2005.5,"v":17.2,"c":"r"},{"t":2006.16,"v":16.0,"c":"g"},{"t":2006.25,"v":22.3,"c":"g"},{"t":2006.33,"v":21.8,"c":"g"},{"t":2006.9,"v":22.0,"c":"r"},{"t":2007.16,"v":20.5,"c":"g"},{"t":2007.25,"v":20.8,"c":"g"},{"t":2007.41,"v":20.5,"c":"g"},{"t":2007.5,"v":25.7,"c":"r"},{"t":2008.25,"v":26.0,"c":"g"},{"t":2008.33,"v":27.3,"c":"g"},{"t":2008.49,"v":25.3,"c":"r"},{"t":2008.55,"v":24.3,"c":"r"},{"t":2008.81,"v":26.6,"c":"r"},{"t":2009.25,"v":24.3,"c":"g"},{"t":2009.56,"v":22.8,"c":"r"},{"t":2009.65,"v":22.3,"c":"r"},{"t":2009.8,"v":20.6,"c":"r"},{"t":2010.32,"v":25.7,"c":"g"},{"t":2010.4,"v":24.6,"c":"g"},{"t":2010.49,"v":20.3,"c":"r"},{"t":2010.65,"v":18.1,"c":"r"},{"t":2011.07,"v":16.9,"c":"r"},{"t":2011.24,"v":23.3,"c":"g"},{"t":2011.24,"v":22.8,"c":"g"},{"t":2011.33,"v":21.0,"c":"g"}
],
"ref": [
{"p":"O1","y":1.38,"c":"g","s":"d"},{"p":"O1","y":0.52,"c":"r","s":"d"},
{"p":"P1","y":4.2,"c":"g","s":"d"},{"p":"P1","y":2.35,"c":"g","s":"s"},{"p":"P1","y":2.0,"c":"r","s":"d"},{"p":"P1","y":1.15,"c":"r","s":"s"},
{"p":"P2","y":8.9,"c":"g","s":"d"},{"p":"P2","y":4.3,"c":"r","s":"d"},
{"p":"C1","y":15.0,"c":"g","s":"d"},{"p":"C1","y":9.5,"c":"r","s":"d"},{"p":"C1","y":8.3,"c":"g","s":"s"},{"p":"C1","y":5.1,"c":"r","s":"s"},
{"p":"C2","y":20.1,"c":"g","s":"d"},{"p":"C2","y":14.4,"c":"r","s":"d"}
]
},
"spacing": 11,
"resolve": {"scale": {"x": "independent", "y": "independent"}, "axis": {"x": "independent", "y": "independent"}},
"vconcat": [
{
"spacing": 17,
"resolve": {"scale": {"x": "independent", "y": "independent"}, "axis": {"x": "independent", "y": "independent"}},
"vconcat": [
{
 "width": 1012, "height": 156,
 "resolve": {"axis": {"y": "independent"}},
 "layer": [
  {"data": {"name": "O1"}, "mark": {"type": "rule", "strokeWidth": 6, "strokeCap": "round", "strokeDash": [0, 6], "xOffset": 4},
   "encoding": {
    "x": {"field": "t", "type": "quantitative", "title": null, "scale": {"domain": [2002, 2012], "nice": false, "zero": false}, "axis": {"values": [2003,2004,2005,2006,2007,2008,2009,2010,2011]}},
    "y": {"field": "l", "type": "quantitative", "title": null, "scale": {"domain": [0, 6], "nice": false}, "axis": {"values": [0, 2, 4, 6]}},
    "y2": {"field": "h"},
    "color": {"field": "c", "type": "nominal", "scale": {"domain": ["r", "g"], "range": ["#ff0000", "#008000"]}, "legend": null}}},
  {"data": {"name": "oO1"}, "mark": {"type": "circle", "size": 30, "opacity": 1},
   "encoding": {"x": {"field": "t", "type": "quantitative", "title": null}, "y": {"field": "v", "type": "quantitative", "axis": null}, "color": {"field": "c", "type": "nominal", "legend": null}}},
  {"data": {"name": "ref"}, "transform": [{"filter": "datum.p == 'O1'"}], "mark": {"type": "rule", "strokeWidth": 2.5},
   "encoding": {"y": {"field": "y", "type": "quantitative", "axis": {"orient": "right", "title": "SUR-O1", "labels": false, "ticks": false, "domain": false, "grid": false, "titleAngle": 0, "titleAlign": "left", "titleBaseline": "middle", "titleX": 22, "titleY": 57, "titleFont": "Lato", "titleFontSize": 18.5, "titleFontWeight": "bold", "titleColor": "black"}}, "color": {"field": "c", "type": "nominal", "legend": null}, "strokeDash": {"field": "s", "type": "nominal", "scale": {"domain": ["d", "s"], "range": [[9, 5], [1, 0]]}, "legend": null}}},
  {"data": {"name": "O1"}, "mark": {"type": "line", "color": "black", "strokeWidth": 2.5},
   "encoding": {"x": {"field": "t", "type": "quantitative", "title": null}, "y": {"field": "m", "type": "quantitative", "axis": null}}}
 ]
},
{
"spacing": -5,
"resolve": {"scale": {"x": "independent", "y": "independent"}, "axis": {"x": "independent", "y": "independent"}},
"vconcat": [
 {
  "width": 1012, "height": 146,
  "resolve": {"axis": {"y": "independent"}},
  "layer": [
   {"data": {"name": "P1"}, "mark": {"type": "rule", "strokeWidth": 6, "strokeCap": "round", "strokeDash": [0, 6], "xOffset": 4},
    "encoding": {
     "x": {"field": "t", "type": "quantitative", "title": null, "scale": {"domain": [2002, 2012], "nice": false, "zero": false}, "axis": {"values": [2003,2004,2005,2006,2007,2008,2009,2010,2011]}},
     "y": {"field": "l", "type": "quantitative", "title": null, "scale": {"domain": [0, 30], "nice": false}, "axis": {"values": [0, 10, 20, 30]}},
     "y2": {"field": "h"},
     "color": {"field": "c", "type": "nominal", "scale": {"domain": ["r", "g"], "range": ["#ff0000", "#008000"]}, "legend": null}}},
   {"data": {"name": "oP1"}, "mark": {"type": "circle", "size": 30, "opacity": 1},
    "encoding": {"x": {"field": "t", "type": "quantitative", "title": null}, "y": {"field": "v", "type": "quantitative", "axis": null}, "color": {"field": "c", "type": "nominal", "legend": null}}},
   {"data": {"name": "ref"}, "transform": [{"filter": "datum.p == 'P1'"}], "mark": {"type": "rule", "strokeWidth": 2.5},
    "encoding": {"y": {"field": "y", "type": "quantitative", "axis": {"orient": "right", "title": "SUR-P1", "labels": false, "ticks": false, "domain": false, "grid": false, "titleAngle": 0, "titleAlign": "left", "titleBaseline": "middle", "titleX": 22, "titleY": 87, "titleFont": "Lato", "titleFontSize": 18.5, "titleFontWeight": "bold", "titleColor": "black"}}, "color": {"field": "c", "type": "nominal", "legend": null}, "strokeDash": {"field": "s", "type": "nominal", "scale": {"domain": ["d", "s"], "range": [[9, 5], [1, 0]]}, "legend": null}}},
   {"data": {"name": "P1"}, "mark": {"type": "line", "color": "black", "strokeWidth": 2.5},
    "encoding": {"x": {"field": "t", "type": "quantitative", "title": null}, "y": {"field": "m", "type": "quantitative", "axis": null}}}
  ]
 },
 {
  "width": 1012, "height": 147,
  "resolve": {"axis": {"y": "independent"}},
  "layer": [
   {"data": {"name": "P2"}, "mark": {"type": "rule", "strokeWidth": 6, "strokeCap": "round", "strokeDash": [0, 6], "xOffset": 4},
    "encoding": {
     "x": {"field": "t", "type": "quantitative", "title": null, "scale": {"domain": [2002, 2012], "nice": false, "zero": false}, "axis": {"values": [2003,2004,2005,2006,2007,2008,2009,2010,2011]}},
     "y": {"field": "l", "type": "quantitative", "title": null, "scale": {"domain": [0, 30], "nice": false}, "axis": {"values": [0, 10, 20, 30]}},
     "y2": {"field": "h"},
     "color": {"field": "c", "type": "nominal", "scale": {"domain": ["r", "g"], "range": ["#ff0000", "#008000"]}, "legend": null}}},
   {"data": {"name": "oP2"}, "mark": {"type": "circle", "size": 30, "opacity": 1},
    "encoding": {"x": {"field": "t", "type": "quantitative", "title": null}, "y": {"field": "v", "type": "quantitative", "axis": null}, "color": {"field": "c", "type": "nominal", "legend": null}}},
   {"data": {"name": "ref"}, "transform": [{"filter": "datum.p == 'P2'"}], "mark": {"type": "rule", "strokeWidth": 2.5},
    "encoding": {"y": {"field": "y", "type": "quantitative", "axis": {"orient": "right", "title": "SUR-P2", "labels": false, "ticks": false, "domain": false, "grid": false, "titleAngle": 0, "titleAlign": "left", "titleBaseline": "middle", "titleX": 22, "titleY": 91, "titleFont": "Lato", "titleFontSize": 18.5, "titleFontWeight": "bold", "titleColor": "black"}}, "color": {"field": "c", "type": "nominal", "legend": null}, "strokeDash": {"field": "s", "type": "nominal", "scale": {"domain": ["d", "s"], "range": [[9, 5], [1, 0]]}, "legend": null}}},
   {"data": {"name": "P2"}, "mark": {"type": "line", "color": "black", "strokeWidth": 2.5},
    "encoding": {"x": {"field": "t", "type": "quantitative", "title": null}, "y": {"field": "m", "type": "quantitative", "axis": null}}}
  ]
 }
]
}
]
},
{
"spacing": -7,
"resolve": {"scale": {"x": "independent", "y": "independent"}, "axis": {"x": "independent", "y": "independent"}},
"vconcat": [
 {
  "width": 1012, "height": 176,
  "resolve": {"axis": {"y": "independent"}},
  "layer": [
   {"data": {"name": "C1"}, "mark": {"type": "rule", "strokeWidth": 6, "strokeCap": "round", "strokeDash": [0, 6], "xOffset": 4},
    "encoding": {
     "x": {"field": "t", "type": "quantitative", "title": null, "scale": {"domain": [2002, 2012], "nice": false, "zero": false}, "axis": {"values": [2003,2004,2005,2006,2007,2008,2009,2010,2011], "gridDash": []}},
     "y": {"field": "l", "type": "quantitative", "title": null, "scale": {"domain": [0, 30], "nice": false}, "axis": {"values": [0, 10, 20, 30]}},
     "y2": {"field": "h"},
     "color": {"field": "c", "type": "nominal", "scale": {"domain": ["r", "g"], "range": ["#ff0000", "#008000"]}, "legend": null}}},
   {"data": {"name": "oC1"}, "mark": {"type": "circle", "size": 30, "opacity": 1},
    "encoding": {"x": {"field": "t", "type": "quantitative", "title": null}, "y": {"field": "v", "type": "quantitative", "axis": null}, "color": {"field": "c", "type": "nominal", "legend": null}}},
   {"data": {"name": "ref"}, "transform": [{"filter": "datum.p == 'C1'"}], "mark": {"type": "rule", "strokeWidth": 2.5},
    "encoding": {"y": {"field": "y", "type": "quantitative", "axis": {"orient": "right", "title": "SUR-C1", "labels": false, "ticks": false, "domain": false, "grid": false, "titleAngle": 0, "titleAlign": "left", "titleBaseline": "middle", "titleX": 22, "titleY": 82, "titleFont": "Lato", "titleFontSize": 18.5, "titleFontWeight": "bold", "titleColor": "black"}}, "color": {"field": "c", "type": "nominal", "legend": null}, "strokeDash": {"field": "s", "type": "nominal", "scale": {"domain": ["d", "s"], "range": [[9, 5], [1, 0]]}, "legend": null}}},
   {"data": {"name": "C1"}, "mark": {"type": "line", "color": "black", "strokeWidth": 2.5},
    "encoding": {"x": {"field": "t", "type": "quantitative", "title": null}, "y": {"field": "m", "type": "quantitative", "axis": null}}}
  ]
 },
 {
  "width": 1012, "height": 120,
  "resolve": {"axis": {"y": "independent"}},
  "layer": [
   {"data": {"name": "C2"}, "mark": {"type": "rule", "strokeWidth": 6, "strokeCap": "round", "strokeDash": [0, 6], "xOffset": 4},
    "encoding": {
     "x": {"field": "t", "type": "quantitative", "title": null, "scale": {"domain": [2002, 2012], "nice": false, "zero": false},
      "axis": {"values": [2002,2003,2004,2005,2006,2007,2008,2009,2010,2011,2012], "format": "d", "labels": true, "ticks": true, "domain": true, "tickColor": "black", "tickSize": 8, "tickWidth": 2, "domainColor": "black", "domainWidth": 2.5, "labelPadding": 18,
       "gridOpacity": {"condition": {"test": "datum.value == 2002 || datum.value == 2012", "value": 0}, "value": 1}}},
     "y": {"field": "l", "type": "quantitative", "title": null, "scale": {"domain": [0, 30], "nice": false}, "axis": {"values": [0, 10, 20, 30]}},
     "y2": {"field": "h"},
     "color": {"field": "c", "type": "nominal", "scale": {"domain": ["r", "g"], "range": ["#ff0000", "#008000"]}, "legend": null}}},
   {"data": {"name": "oC2"}, "mark": {"type": "circle", "size": 30, "opacity": 1},
    "encoding": {"x": {"field": "t", "type": "quantitative", "title": null}, "y": {"field": "v", "type": "quantitative", "axis": null}, "color": {"field": "c", "type": "nominal", "legend": null}}},
   {"data": {"name": "ref"}, "transform": [{"filter": "datum.p == 'C2'"}], "mark": {"type": "rule", "strokeWidth": 2.5},
    "encoding": {"y": {"field": "y", "type": "quantitative", "axis": {"orient": "right", "title": "SUR-C2", "labels": false, "ticks": false, "domain": false, "grid": false, "titleAngle": 0, "titleAlign": "left", "titleBaseline": "middle", "titleX": 22, "titleY": 60, "titleFont": "Lato", "titleFontSize": 18.5, "titleFontWeight": "bold", "titleColor": "black"}}, "color": {"field": "c", "type": "nominal", "legend": null}, "strokeDash": {"field": "s", "type": "nominal", "scale": {"domain": ["d", "s"], "range": [[9, 5], [1, 0]]}, "legend": null}}},
   {"data": {"name": "C2"}, "mark": {"type": "line", "color": "black", "strokeWidth": 2.5},
    "encoding": {"x": {"field": "t", "type": "quantitative", "title": null}, "y": {"field": "m", "type": "quantitative", "axis": null}}}
  ]
 }
]
}
]
}
